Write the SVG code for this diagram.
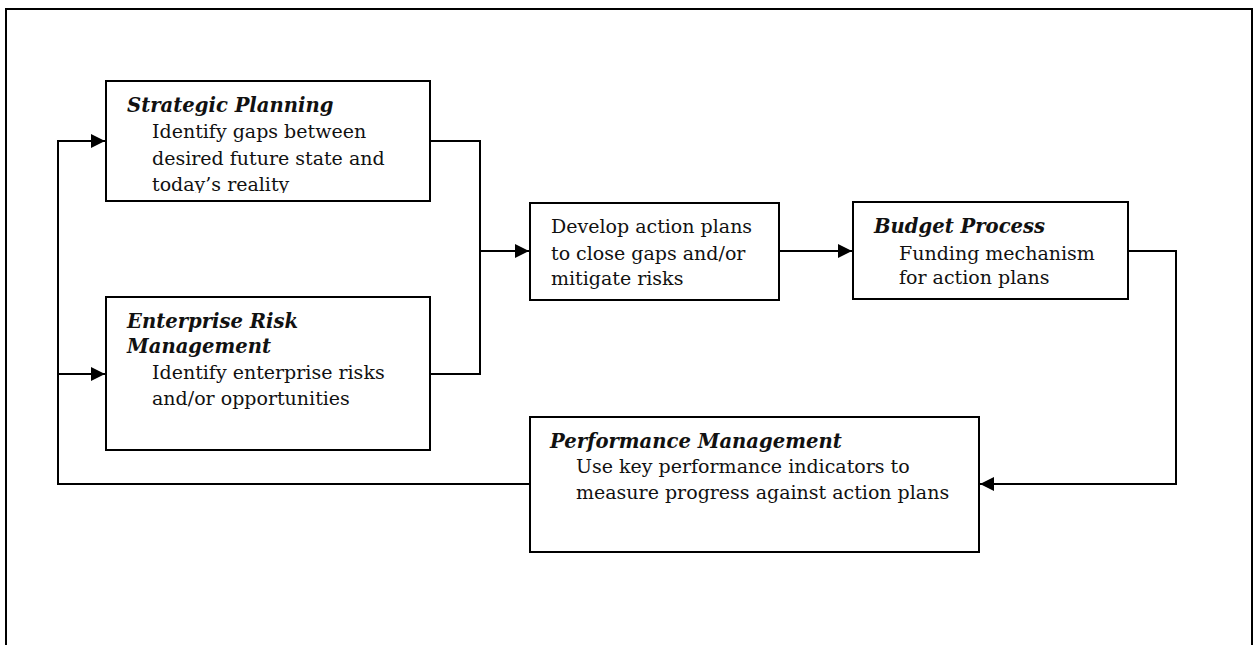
<svg xmlns="http://www.w3.org/2000/svg" width="1254" height="645" viewBox="0 0 1254 645">
<style>
.box{fill:#fff;stroke:#000;stroke-width:2}
.t{font-family:"DejaVu Serif","Liberation Serif",serif;font-size:19px;fill:#111}
.h{font-weight:bold;font-style:italic;font-size:19.6px}
.c{fill:none;stroke:#000;stroke-width:2}
</style>
<defs>
<marker id="ah" viewBox="0 0 10 10" refX="10" refY="5" markerWidth="14" markerHeight="14" markerUnits="userSpaceOnUse" orient="auto">
<path d="M0,0 L10,5 L0,10 z" fill="#000"/>
</marker>
<clipPath id="spclip"><rect x="106" y="81" width="324" height="112"/></clipPath>
</defs>
<rect width="1254" height="645" fill="#fff"/>
<path d="M6,645 V9 H1252 V645" fill="none" stroke="#000" stroke-width="2"/>
<g id="connectors">
<path class="c" d="M430,141 H480 V374 H430"/>
<path class="c" d="M480,251 H529" marker-end="url(#ah)"/>
<path class="c" d="M779,251 H852" marker-end="url(#ah)"/>
<path class="c" d="M1128,251 H1176 V484 H980" marker-end="url(#ah)"/>
<path class="c" d="M530,484 H58 V141 H105" marker-end="url(#ah)"/>
<path class="c" d="M58,374 H105" marker-end="url(#ah)"/>
</g>
<g id="strategic">
<rect class="box" x="106" y="81" width="324" height="120"/>
<g clip-path="url(#spclip)">
<text class="t h" x="127" y="112">Strategic Planning</text>
<text class="t" x="152" y="138">Identify gaps between</text>
<text class="t" x="152" y="165">desired future state and</text>
<text class="t" x="152" y="191">today’s reality</text>
</g>
</g>
<g id="erm">
<rect class="box" x="106" y="297" width="324" height="153"/>
<text class="t h" x="127" y="328">Enterprise Risk</text>
<text class="t h" x="127" y="353">Management</text>
<text class="t" x="152" y="379">Identify enterprise risks</text>
<text class="t" x="152" y="405">and/or opportunities</text>
</g>
<g id="develop">
<rect class="box" x="530" y="203" width="249" height="97"/>
<text class="t" x="551" y="233">Develop action plans</text>
<text class="t" x="551" y="260">to close gaps and/or</text>
<text class="t" x="551" y="285">mitigate risks</text>
</g>
<g id="budget">
<rect class="box" x="853" y="202" width="275" height="97"/>
<text class="t h" x="874" y="233">Budget Process</text>
<text class="t" x="899" y="260">Funding mechanism</text>
<text class="t" x="899" y="284">for action plans</text>
</g>
<g id="performance">
<rect class="box" x="530" y="417" width="449" height="135"/>
<text class="t h" x="550" y="448">Performance Management</text>
<text class="t" x="576" y="473">Use key performance indicators to</text>
<text class="t" x="576" y="499">measure progress against action plans</text>
</g>
</svg>
